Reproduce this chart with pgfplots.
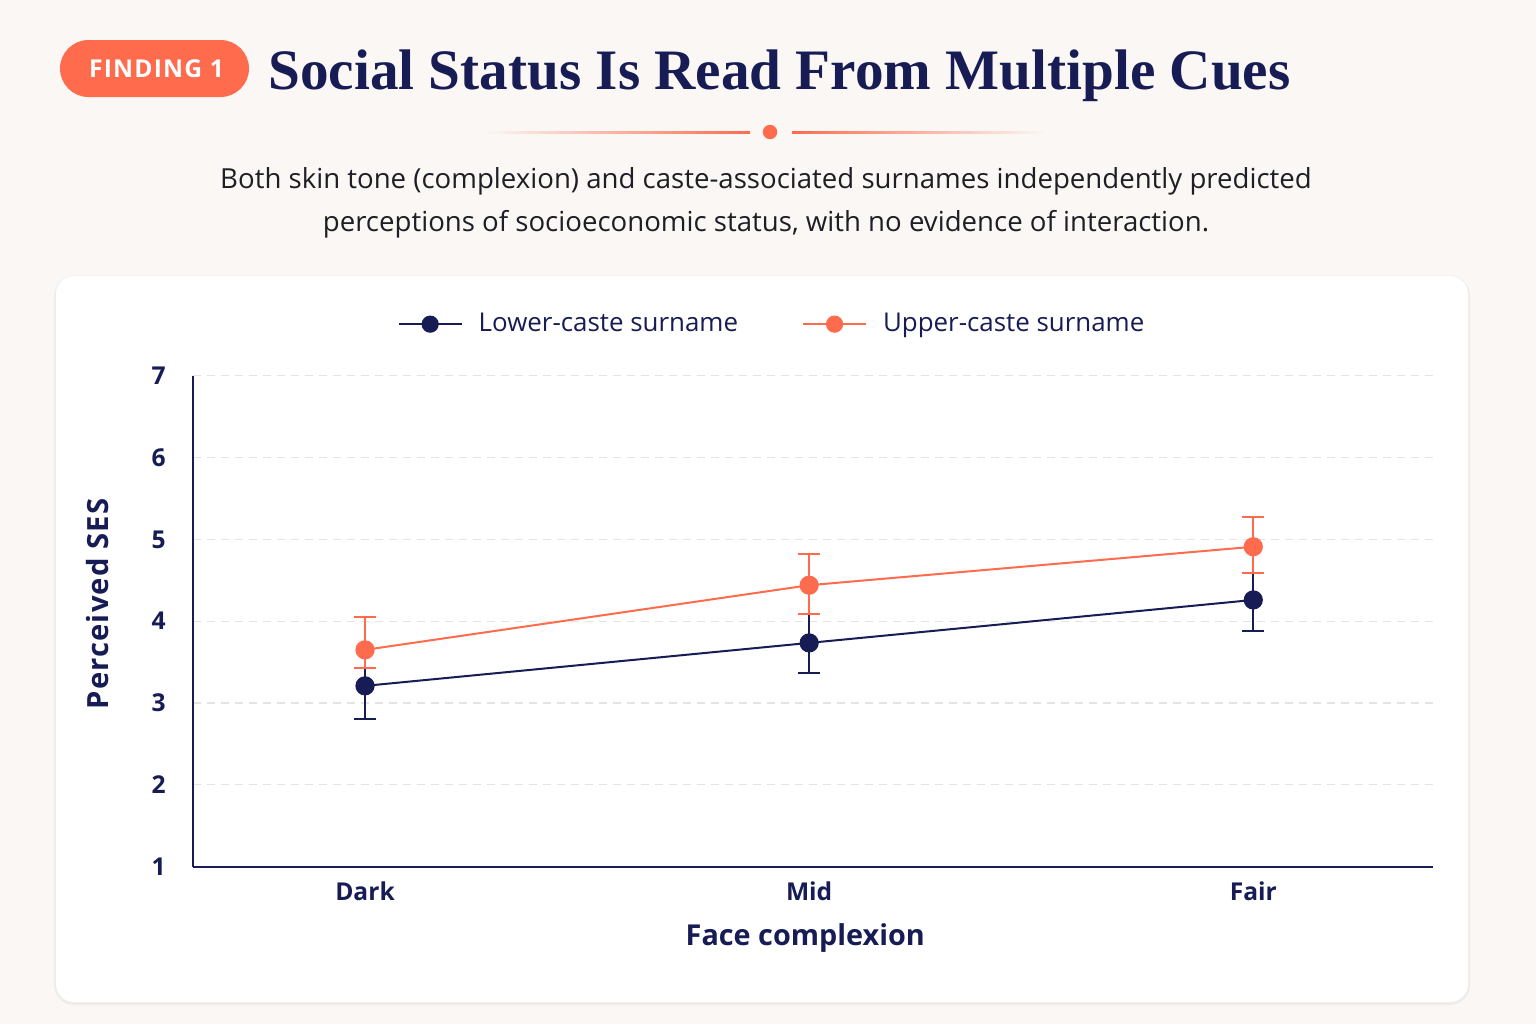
\documentclass[border=0pt]{standalone}
\usepackage{fontspec}
\setmainfont{Open Sans}
\newfontfamily\titlefont{Liberation Serif}
\usepackage{pgfplots}
\pgfplotsset{compat=1.18}
\definecolor{navy}{HTML}{181C55}
\definecolor{coral}{HTML}{FF6B4D}
\definecolor{bg}{HTML}{FAF7F4}
\definecolor{gridc}{HTML}{E4E4E4}
\definecolor{subtxt}{HTML}{1E1E24}
\begin{document}
\begin{tikzpicture}
\useasboundingbox (0pt,0pt) rectangle (768pt,-512pt);
\fill[bg] (0pt,0pt) rectangle (768pt,-512pt);
% card shadow and card
\fill[black,opacity=0.025,rounded corners=10pt] (27pt,-138pt) rectangle (735pt,-502.5pt);
\fill[black,opacity=0.02,rounded corners=10pt] (27pt,-137.5pt) rectangle (735pt,-502.5pt);
\fill[white,rounded corners=9pt] (28pt,-138pt) rectangle (734pt,-501pt);
% badge
\fill[coral,rounded corners=14.25pt] (30pt,-20pt) rectangle (124.5pt,-48.5pt);
\node[text=white,font=\bfseries\fontsize{12.3}{14}\selectfont\addfontfeatures{LetterSpace=5}] at (78.25pt,-34.25pt) {FINDING 1};
% title
\node[anchor=base west,inner sep=0pt,text=navy,font=\titlefont\bfseries\fontsize{28.6}{32}\selectfont] at (134pt,-44.65pt) {Social Status Is Read From Multiple Cues};
% divider
\shade[left color=bg,right color=coral] (242.5pt,-65.5pt) rectangle (375pt,-66.5pt);
\shade[left color=coral,right color=bg] (396pt,-65.5pt) rectangle (522.5pt,-66.5pt);
\fill[coral] (385pt,-66pt) circle (3.6pt);
% subtitle
\node[anchor=base,inner sep=0pt,text=subtxt,font=\fontsize{13.8}{16}\selectfont] at (383pt,-94.15pt) {Both skin tone (complexion) and caste-associated surnames independently predicted};
\node[anchor=base,inner sep=0pt,text=subtxt,font=\fontsize{13.8}{16}\selectfont] at (383pt,-115.8pt) {perceptions of socioeconomic status, with no evidence of interaction.};
\begin{axis}[
  at={(96.35pt,-433.35pt)}, anchor=south west,
  scale only axis, width=620pt, height=245.5pt,
  xmin=-0.388, xmax=2.404, ymin=1, ymax=7,
  axis lines*=left,
  axis line style={navy,line width=1pt},
  xtick={0,1,2}, xticklabels={Dark,Mid,Fair},
  ytick={1,2,3,4,5,6,7},
  major tick length=0pt,
  ymajorgrids,
  major grid style={gridc,line width=0.6pt,dash pattern=on 4pt off 3pt},
  /pgf/number format/assume math mode=true,
  ticklabel style={font=\bfseries\fontsize{12.3}{14}\selectfont,text=navy},
  yticklabel style={xshift=-10pt},
  xticklabel style={yshift=-4pt},
  xlabel={Face complexion},
  ylabel={Perceived SES},
  label style={text=navy},
  xlabel style={font=\bfseries\fontsize{14.4}{16}\selectfont,at={(axis description cs:0.494,-0.1446)},anchor=center},
  ylabel style={font=\bfseries\fontsize{14.6}{16}\selectfont\addfontfeatures{LetterSpace=4},at={(axis description cs:-0.0764,0.535)},anchor=center,rotate=0},
  legend style={draw=none,fill=none,at={(axis description cs:0.468,1.105)},anchor=center,
    legend columns=2,font=\fontsize{12.95}{15}\selectfont,text=navy,
    /tikz/every odd column/.append style={column sep=6pt},
    /tikz/every even column/.append style={column sep=30pt}},
  legend cell align=left,
  legend image code/.code={\draw[mark repeat=2,mark phase=2,#1,mark size=3.8pt] plot coordinates {(0pt,0pt)(15.75pt,0pt)(31.5pt,0pt)};},
  clip=false,
]
\addplot[navy,line width=1pt,mark=*,mark size=4.3pt,mark options={fill=navy,draw=navy},
  error bars/.cd, y dir=both, y explicit,
  error mark=|, error mark options={mark size=5.5pt,line width=1pt,navy},
  error bar style={line width=1pt,navy}]
  coordinates {
  (0,3.21) += (0,0.22) -= (0,0.40)
  (1,3.735) += (0,0.355) -= (0,0.37)
  (2,4.26) += (0,0.33) -= (0,0.38)
  };
\addlegendentry{Lower-caste surname}
\addplot[coral,line width=1pt,mark=*,mark size=4.3pt,mark options={fill=coral,draw=coral},
  error bars/.cd, y dir=both, y explicit,
  error mark=|, error mark options={mark size=5.5pt,line width=1pt,coral},
  error bar style={line width=1pt,coral}]
  coordinates {
  (0,3.65) += (0,0.40) -= (0,0.22)
  (1,4.44) += (0,0.38) -= (0,0.35)
  (2,4.91) += (0,0.36) -= (0,0.32)
  };
\addlegendentry{Upper-caste surname}
\end{axis}
\end{tikzpicture}
\end{document}
